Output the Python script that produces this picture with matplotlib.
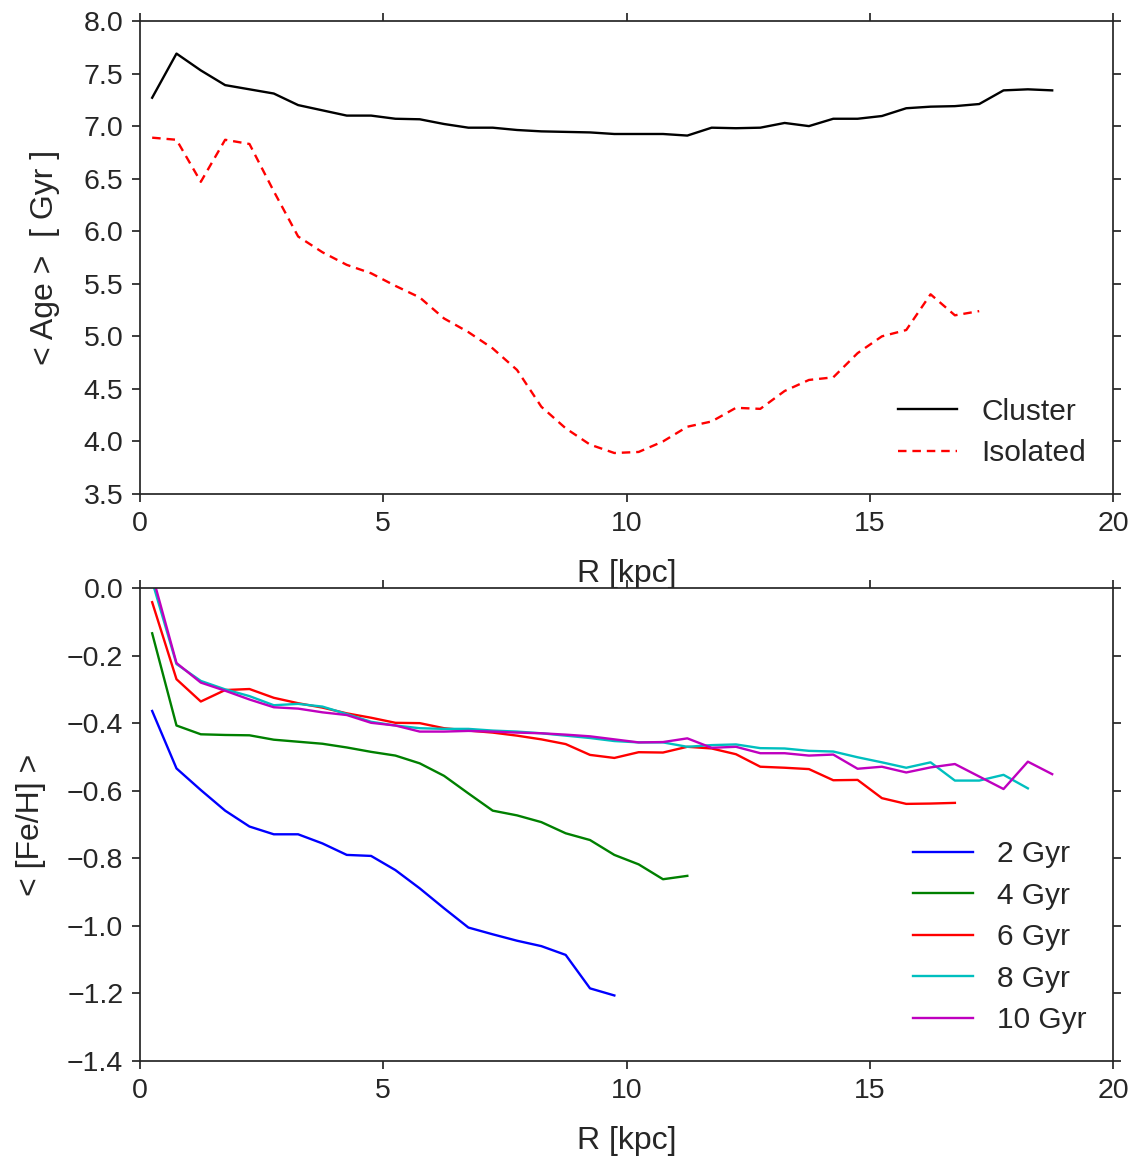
import numpy as np
import matplotlib as mpl
mpl.use('Agg')
import matplotlib.pyplot as plt
from matplotlib.ticker import MultipleLocator, FuncFormatter

# radial bins [kpc]
radius = np.arange(0.25, 19.0, 0.5)

# mean stellar age [Gyr]
age_cluster = [7.27, 7.69, 7.53, 7.39, 7.35, 7.31, 7.20, 7.15, 7.10, 7.10,
               7.07, 7.065, 7.02, 6.985, 6.985, 6.963, 6.95, 6.945, 6.94, 6.925,
               6.925, 6.925, 6.91, 6.985, 6.98, 6.985, 7.03, 7.00, 7.07, 7.07,
               7.096, 7.17, 7.185, 7.19, 7.21, 7.34, 7.35, 7.34]
age_isolated = [6.89, 6.87, 6.47, 6.87, 6.83, 6.38, 5.95, 5.80, 5.68, 5.60,
                5.48, 5.37, 5.17, 5.04, 4.885, 4.68, 4.33, 4.125, 3.97, 3.89,
                3.90, 4.00, 4.14, 4.19, 4.32, 4.31, 4.48, 4.585, 4.61, 4.84,
                5.00, 5.06, 5.40, 5.20, 5.24]

# mean metallicity per age bin
feh_2gyr = [-0.364, -0.534, -0.598, -0.659, -0.706, -0.729, -0.729, -0.756,
            -0.790, -0.793, -0.835, -0.889, -0.948, -1.005, -1.025, -1.044,
            -1.060, -1.086, -1.185, -1.206]
feh_4gyr = [-0.134, -0.407, -0.433, -0.435, -0.436, -0.449, -0.455, -0.461,
            -0.472, -0.485, -0.496, -0.519, -0.556, -0.608, -0.659, -0.673,
            -0.693, -0.726, -0.746, -0.790, -0.818, -0.862, -0.852]
feh_6gyr = [-0.042, -0.270, -0.336, -0.302, -0.299, -0.325, -0.341, -0.354,
            -0.371, -0.384, -0.399, -0.400, -0.415, -0.422, -0.428, -0.437,
            -0.448, -0.462, -0.494, -0.503, -0.486, -0.487, -0.470, -0.475,
            -0.492, -0.529, -0.532, -0.536, -0.569, -0.568, -0.622, -0.639,
            -0.638, -0.636]
feh_8gyr = [0.02, -0.225, -0.275, -0.300, -0.320, -0.347, -0.343, -0.351,
            -0.373, -0.396, -0.407, -0.415, -0.417, -0.417, -0.422, -0.425,
            -0.430, -0.437, -0.444, -0.453, -0.457, -0.457, -0.470, -0.465,
            -0.463, -0.474, -0.475, -0.482, -0.484, -0.501, -0.516, -0.532,
            -0.516, -0.570, -0.570, -0.553, -0.593]
feh_10gyr = [0.04, -0.222, -0.280, -0.304, -0.330, -0.353, -0.357, -0.368,
             -0.376, -0.399, -0.407, -0.425, -0.425, -0.423, -0.425, -0.428,
             -0.430, -0.434, -0.439, -0.448, -0.457, -0.456, -0.445, -0.473,
             -0.470, -0.489, -0.489, -0.496, -0.493, -0.535, -0.529, -0.546,
             -0.531, -0.521, -0.558, -0.595, -0.514, -0.551]

feh_series = [feh_2gyr, feh_4gyr, feh_6gyr, feh_8gyr, feh_10gyr]
feh_labels = ['2 Gyr', '4 Gyr', '6 Gyr', '8 Gyr', '10 Gyr']
feh_colors = ['b', 'g', 'r', 'c', 'm']

dark = '#262626'
mpl.rcParams.update({'font.family': ['Liberation Sans', 'DejaVu Sans'],
                     'font.size': 20.5,
                     'text.color': dark,
                     'axes.labelcolor': dark,
                     'axes.edgecolor': dark,
                     'axes.linewidth': 1.25,
                     'xtick.color': dark,
                     'ytick.color': dark,
                     'xtick.direction': 'out',
                     'ytick.direction': 'out',
                     'xtick.major.size': 6,
                     'ytick.major.size': 6,
                     'xtick.major.width': 1.25,
                     'ytick.major.width': 1.25,
                     'xtick.major.pad': 6,
                     'ytick.major.pad': 6,
                     'xtick.top': True,
                     'ytick.right': True,
                     'legend.frameon': False,
                     'legend.fontsize': 21.5,
                     'legend.labelspacing': 0.45})

def one_decimal(v, pos):
    #one decimal, true minus sign
    return ('%.1f' % v).replace('-', '\u2212')

picW = 1145.
picH = 1160.
fig = plt.figure(figsize=(picW/100., picH/100.), dpi=100)

x0 = 140./picW
w = (1113. - 140.)/picW
h = (494. - 21.)/picH
ax1 = fig.add_axes([x0, 1. - 494./picH, w, h])
ax2 = fig.add_axes([x0, 1. - 1061./picH, w, h])

#top panel: ages
ax1.plot(radius[:len(age_cluster)], age_cluster, color='k', lw=1.7, label='Cluster')
ax1.plot(radius[:len(age_isolated)], age_isolated, color='r', lw=1.7, ls='--',
         dashes=(3.6, 2.5), label='Isolated')
ax1.set_xlim(0, 20)
ax1.set_ylim(3.5, 8.0)
ax1.yaxis.set_major_locator(MultipleLocator(0.5))
ax1.set_ylabel('< Age >  [ Gyr ]', fontsize=23, labelpad=17)
ax1.set_xlabel('R [kpc]', fontsize=23, labelpad=16)
ax1.legend(loc='lower right')

#bottom panel: metallicity
for vals, lab, col in zip(feh_series, feh_labels, feh_colors):
    ax2.plot(radius[:len(vals)], vals, color=col, lw=1.7, label=lab)
ax2.set_xlim(0, 20)
ax2.set_ylim(-1.4, 0.0)
ax2.yaxis.set_major_locator(MultipleLocator(0.2))
ax2.set_ylabel('< [Fe/H] >', fontsize=23, labelpad=15)
ax2.set_xlabel('R [kpc]', fontsize=23, labelpad=16)
ax2.legend(loc='lower right')

for ax in (ax1, ax2):
    ax.xaxis.set_major_locator(MultipleLocator(5))
    ax.yaxis.set_major_formatter(FuncFormatter(one_decimal))

plt.savefig('out.png', dpi=100)
